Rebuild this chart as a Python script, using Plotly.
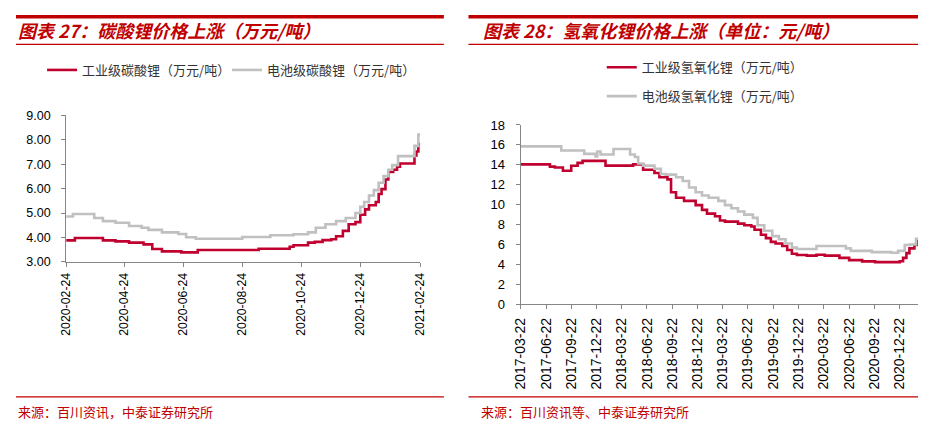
import plotly.graph_objects as go

# reference canvas 933x439; the page body keeps an 8px margin, so the figure is 917x423
REF_W, REF_H = 933, 439
OFF = 8
W, H = REF_W - 2 * OFF, REF_H - 2 * OFF

# ---------------- data: chart 27 (lithium carbonate, 万元/吨) ----------------
li2co3_ind_dates = ["2020-02-24", "2020-03-04", "2020-04-02", "2020-04-15", "2020-04-29", "2020-05-14",
                    "2020-05-23", "2020-06-02", "2020-06-22", "2020-07-09", "2020-09-10", "2020-10-12",
                    "2020-10-16", "2020-10-31", "2020-11-07", "2020-11-15", "2020-11-24", "2020-11-29",
                    "2020-12-06", "2020-12-12", "2020-12-19", "2020-12-24", "2020-12-29", "2021-01-02",
                    "2021-01-09", "2021-01-12", "2021-01-15", "2021-01-19", "2021-01-22", "2021-01-27",
                    "2021-01-31", "2021-02-03", "2021-02-18", "2021-02-20", "2021-02-22", "2021-02-24"]
li2co3_ind_values = [3.88, 3.98, 3.88, 3.84, 3.79, 3.72, 3.53, 3.43, 3.39, 3.49, 3.54, 3.62,
                     3.68, 3.79, 3.82, 3.89, 3.93, 4.05, 4.27, 4.54, 4.63, 4.93, 5.15, 5.32,
                     5.45, 5.78, 5.98, 6.37, 6.68, 6.77, 6.90, 7.03, 7.36, 7.52, 7.82, 7.82]

li2co3_bat_dates = ["2020-02-24", "2020-03-02", "2020-03-24", "2020-04-02", "2020-04-15", "2020-04-29",
                    "2020-05-12", "2020-05-19", "2020-06-02", "2020-06-19", "2020-06-27", "2020-07-07",
                    "2020-08-24", "2020-09-22", "2020-10-16", "2020-10-31", "2020-11-08", "2020-11-18",
                    "2020-11-29", "2020-12-09", "2020-12-19", "2020-12-24", "2020-12-28", "2021-01-02",
                    "2021-01-07", "2021-01-12", "2021-01-17", "2021-01-22", "2021-01-26", "2021-02-01",
                    "2021-02-18", "2021-02-22", "2021-02-24"]
li2co3_bat_values = [4.86, 4.96, 4.80, 4.67, 4.60, 4.47, 4.40, 4.31, 4.21, 4.14, 4.01, 3.95,
                     4.02, 4.09, 4.13, 4.21, 4.40, 4.54, 4.67, 4.80, 5.00, 5.26, 5.45, 5.72,
                     5.94, 6.24, 6.51, 6.77, 6.96, 7.33, 7.75, 8.21, 8.21]

left_ticks = ["2020-02-24", "2020-04-24", "2020-06-24", "2020-08-24",
              "2020-10-24", "2020-12-24", "2021-02-24"]
left_yticks = [3, 4, 5, 6, 7, 8, 9]

# ---------------- data: chart 28 (lithium hydroxide, 万元/吨) ----------------
lioh_ind_dates = ["2017-03-22", "2017-07-06", "2017-07-24", "2017-08-22", "2017-09-21", "2017-10-14",
                  "2017-11-01", "2018-01-23", "2018-05-03", "2018-06-08", "2018-07-19", "2018-08-06",
                  "2018-09-04", "2018-09-17", "2018-10-05", "2018-11-03", "2018-12-15", "2019-01-07",
                  "2019-01-25", "2019-02-23", "2019-03-13", "2019-03-31", "2019-05-17", "2019-06-09",
                  "2019-07-04", "2019-07-16", "2019-08-08", "2019-08-26", "2019-09-13", "2019-09-30",
                  "2019-10-24", "2019-11-11", "2019-11-28", "2019-12-16", "2020-01-21", "2020-02-25",
                  "2020-03-26", "2020-05-18", "2020-06-22", "2020-08-08", "2020-09-24", "2020-12-22",
                  "2021-01-03", "2021-01-15", "2021-01-26", "2021-02-13", "2021-02-23", "2021-02-26"]
lioh_ind_values = [14.05, 13.82, 13.73, 13.40, 13.90, 14.20, 14.40, 13.92, 14.05, 13.50, 13.18, 12.76,
                   12.54, 11.25, 10.70, 10.38, 9.96, 9.48, 9.10, 8.84, 8.42, 8.30, 8.10, 7.94,
                   7.81, 7.49, 6.98, 6.65, 6.27, 6.11, 5.85, 5.46, 5.08, 4.95, 4.89, 4.98,
                   4.89, 4.66, 4.44, 4.31, 4.24, 4.33, 4.66, 5.14, 5.62, 5.95, 6.43, 6.43]

lioh_bat_dates = ["2017-03-22", "2017-08-16", "2017-11-07", "2017-12-18", "2017-12-24", "2018-01-05",
                  "2018-02-21", "2018-04-22", "2018-05-09", "2018-05-21", "2018-06-08", "2018-07-19",
                  "2018-08-11", "2018-08-29", "2018-10-05", "2018-10-29", "2018-11-21", "2018-12-15",
                  "2019-01-07", "2019-01-31", "2019-03-07", "2019-03-31", "2019-04-23", "2019-05-17",
                  "2019-06-09", "2019-07-10", "2019-07-27", "2019-08-20", "2019-09-18", "2019-10-12",
                  "2019-11-05", "2019-11-28", "2019-12-16", "2020-02-25", "2020-06-10", "2020-06-28",
                  "2020-09-12", "2020-11-22", "2020-12-16", "2021-01-09", "2021-01-26", "2021-02-19",
                  "2021-02-26"]
lioh_bat_values = [15.85, 15.43, 15.10, 14.85, 15.33, 15.04, 15.59, 15.04, 14.79, 14.14, 13.92, 13.60,
                   13.08, 13.02, 12.76, 12.38, 11.73, 11.25, 10.93, 10.70, 10.38, 9.96, 9.64, 9.32,
                   9.00, 8.68, 7.94, 7.39, 6.85, 6.53, 6.11, 5.69, 5.56, 5.85, 5.62, 5.37,
                   5.24, 5.18, 5.37, 5.95, 6.01, 6.59, 6.59]

right_ticks = ["2017-03-22", "2017-06-22", "2017-09-22", "2017-12-22", "2018-03-22", "2018-06-22",
               "2018-09-22", "2018-12-22", "2019-03-22", "2019-06-22", "2019-09-22", "2019-12-22",
               "2020-03-22", "2020-06-22", "2020-09-22", "2020-12-22"]
right_yticks = [0, 2, 4, 6, 8, 10, 12, 14, 16, 18]

# ---------------- text ----------------
title_left = "图表 27：碳酸锂价格上涨（万元/吨）"
title_right = "图表 28：氢氧化锂价格上涨（单位：元/吨）"
source_left = "来源：百川资讯，中泰证券研究所"
source_right = "来源：百川资讯等、中泰证券研究所"
name_l_ind = "工业级碳酸锂（万元/吨）"
name_l_bat = "电池级碳酸锂（万元/吨）"
name_r_ind = "工业级氢氧化锂（万元/吨）"
name_r_bat = "电池级氢氧化锂（万元/吨）"

RED = "#C0002F"
GREY = "#C0C0C0"
DARKRED = "#C00000"
AXIS = "#868686"
CJK = "Noto Sans CJK SC"
LAT = "Liberation Sans, Arial"


def px(x):
    """reference-screen x (px) -> paper fraction, kept inside [0, 1]"""
    return min(1.0, max(0.0, (x - OFF) / W))


def py(y):
    """reference-screen y (px, from top) -> paper fraction, kept inside [0, 1]"""
    return min(1.0, max(0.0, 1 - (y - OFF) / H))


fig = go.Figure()

fig.add_trace(go.Scatter(x=li2co3_ind_dates, y=li2co3_ind_values, name=name_l_ind, mode="lines",
                         line=dict(color=RED, width=2.6, shape="hv"), xaxis="x", yaxis="y",
                         legend="legend"))
fig.add_trace(go.Scatter(x=li2co3_bat_dates, y=li2co3_bat_values, name=name_l_bat, mode="lines",
                         line=dict(color=GREY, width=2.6, shape="hv"), xaxis="x", yaxis="y",
                         legend="legend"))
fig.add_trace(go.Scatter(x=lioh_ind_dates, y=lioh_ind_values, name=name_r_ind, mode="lines",
                         line=dict(color=RED, width=2.6, shape="hv"), xaxis="x2", yaxis="y2",
                         legend="legend2", legendgroup="a"))
fig.add_trace(go.Scatter(x=lioh_bat_dates, y=lioh_bat_values, name=name_r_bat, mode="lines",
                         line=dict(color=GREY, width=2.6, shape="hv"), xaxis="x2", yaxis="y2",
                         legend="legend2", legendgroup="b"))

axis_common = dict(showgrid=False, zeroline=False, showline=True, linecolor=AXIS, linewidth=1,
                   ticks="outside", tickcolor=AXIS, ticklen=4, tickwidth=1)

fig.update_layout(
    width=W, height=H,
    margin=dict(l=0, r=0, t=0, b=0),
    paper_bgcolor="white", plot_bgcolor="white",
    xaxis=dict(domain=[px(59), px(419)], type="date",
               range=[left_ticks[0], left_ticks[-1]],
               tickvals=left_ticks, ticktext=left_ticks, tickangle=-90,
               tickfont=dict(family=LAT, size=12.3, color="#000"), anchor="y", ticklabelstandoff=1,
               **axis_common),
    yaxis=dict(domain=[py(264), py(112)], range=[3, 9], tickvals=left_yticks, tickformat=".2f",
               tickfont=dict(family=LAT, size=12.5, color="#000"), anchor="x", ticklabelstandoff=8,
               **axis_common),
    xaxis2=dict(domain=[px(521), px(925)], type="date",
                range=[right_ticks[0], lioh_ind_dates[-1]],
                tickvals=right_ticks, ticktext=right_ticks, tickangle=-90,
                tickfont=dict(family=LAT, size=14, color="#000"), anchor="y2", ticklabelstandoff=3,
                **axis_common),
    yaxis2=dict(domain=[py(308), py(122)], range=[0, 18], tickvals=right_yticks,
                tickfont=dict(family=LAT, size=13, color="#000"), anchor="x2", ticklabelstandoff=8,
                **axis_common),
    legend=dict(orientation="h", x=px(34.5), xanchor="left", y=py(65), yanchor="middle",
                font=dict(family=CJK, size=13, color="#333"), entrywidth=140,
                bgcolor="rgba(0,0,0,0)", borderwidth=0),
    legend2=dict(orientation="v", x=px(603.5), xanchor="left", y=py(46.6), yanchor="top",
                 font=dict(family=CJK, size=13, color="#333"), tracegroupgap=9,
                 bgcolor="rgba(0,0,0,0)", borderwidth=0),
    showlegend=True,
)

shapes = []
for x0, x1 in [(0, 443), (468, 933)]:
    shapes.append(dict(type="rect", xref="paper", yref="paper", x0=px(x0), x1=px(x1),
                       y0=py(11.5), y1=py(7), fillcolor=DARKRED, line=dict(width=0)))
    shapes.append(dict(type="line", xref="paper", yref="paper", x0=px(x0), x1=px(x1),
                       y0=py(38.5), y1=py(38.5), line=dict(color=DARKRED, width=1.2)))
    shapes.append(dict(type="line", xref="paper", yref="paper", x0=px(x0), x1=px(x1),
                       y0=py(404), y1=py(404), line=dict(color=DARKRED, width=1.2)))
fig.update_layout(shapes=shapes)

ann = []
for txt, x in [(title_left, 8), (title_right, 481)]:
    ann.append(dict(text=txt, xref="paper", yref="paper", x=px(x), y=py(24), xanchor="left",
                    yanchor="middle", showarrow=False,
                    font=dict(family=CJK, size=18, color=DARKRED, weight="bold", style="italic")))
for txt, x in [(source_left, 7), (source_right, 479)]:
    ann.append(dict(text=txt, xref="paper", yref="paper", x=px(x), y=py(419), xanchor="left",
                    yanchor="middle", showarrow=False,
                    font=dict(family=CJK, size=13, color=DARKRED)))
fig.update_layout(annotations=ann)

fig.write_html("out.html", config={"displayModeBar": False})
